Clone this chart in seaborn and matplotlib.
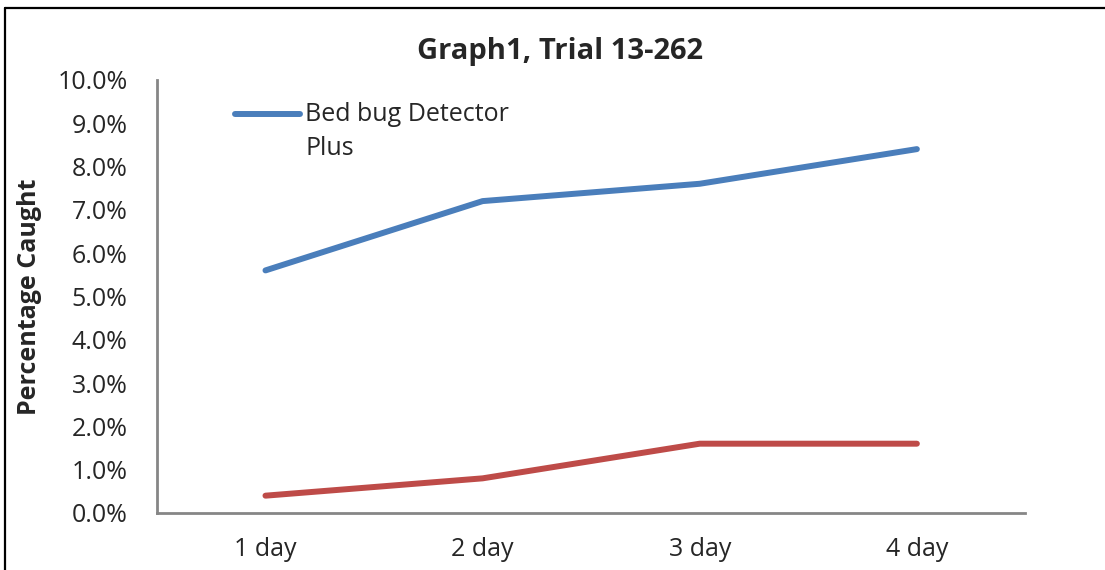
import matplotlib
matplotlib.use("Agg")
import matplotlib.pyplot as plt
import matplotlib.lines as mlines
from matplotlib.legend_handler import HandlerLine2D
import seaborn as sns
import pandas as pd
from matplotlib.ticker import FuncFormatter

categories = ["1 day", "2 day", "3 day", "4 day"]
detector_plus = [5.6, 7.2, 7.6, 8.4]
other_series = [0.4, 0.8, 1.6, 1.6]
series_names = ["Bed bug Detector\nPlus", "Other"]
y_ticks = [0, 1, 2, 3, 4, 5, 6, 7, 8, 9, 10]

df = pd.DataFrame({
    "day": categories * 2,
    "pct": detector_plus + other_series,
    "series": [series_names[0]] * 4 + [series_names[1]] * 4,
})

sns.set_theme(style="white")
plt.rcParams["font.family"] = ["Open Sans", "DejaVu Sans"]

FS = 18
LSP = 1.45

fig = plt.figure(figsize=(11.05, 5.70), dpi=100)
ax = fig.add_axes([0.142, 0.10, 0.786, 0.76])

palette = {series_names[0]: "#4A7EBB", series_names[1]: "#BE4B48"}
sns.lineplot(data=df, x="day", y="pct", hue="series", palette=palette,
             sort=False, linewidth=4.3, ax=ax, legend=False)
for ln in ax.lines:
    ln.set_solid_capstyle("round")

ax.set_xlim(-0.5, 3.5)
ax.set_ylim(0, 10)
ax.set_yticks(y_ticks)
ax.yaxis.set_major_formatter(FuncFormatter(lambda v, p: f"{v:.1f}%"))
ax.set_xlabel("")
ax.set_ylabel("Percentage Caught", fontsize=FS, fontweight="bold", labelpad=11)
ax.tick_params(axis="y", labelsize=FS, length=0, pad=21)
ax.tick_params(axis="x", labelsize=FS, length=0, pad=17)
for side in ["top", "right"]:
    ax.spines[side].set_visible(False)
for side in ["left", "bottom"]:
    ax.spines[side].set_color("#868686")
    ax.spines[side].set_linewidth(2)

ax.set_title("Graph1, Trial 13-262", fontsize=21, fontweight="bold",
             x=0.464, pad=15)


class FirstLineHandler(HandlerLine2D):
    def __init__(self, shift, **kw):
        super().__init__(**kw)
        self.shift = shift

    def create_artists(self, legend, orig_handle, xdescent, ydescent,
                       width, height, fontsize, trans):
        arts = super().create_artists(legend, orig_handle, xdescent, ydescent,
                                      width, height, fontsize, trans)
        for a in arts:
            a.set_ydata([y + self.shift for y in a.get_ydata()])
        return arts


handle = mlines.Line2D([], [], color=palette[series_names[0]], linewidth=4.3,
                       solid_capstyle="round")
leg = ax.legend([handle], [series_names[0]], loc="upper left",
                bbox_to_anchor=(0.09, 0.948), frameon=False, fontsize=FS,
                handlelength=2.6, handletextpad=0.2, borderpad=0,
                borderaxespad=0,
                handler_map={handle: FirstLineHandler(FS * LSP / 2)})
for t in leg.get_texts():
    t.set_linespacing(LSP)

# outer frame (left and top edges visible)
fig.add_artist(mlines.Line2D([5 / 1105, 5 / 1105], [0, 1 - 8 / 570],
                             transform=fig.transFigure, color="black", lw=1.6))
fig.add_artist(mlines.Line2D([5 / 1105, 1], [1 - 8 / 570, 1 - 8 / 570],
                             transform=fig.transFigure, color="black", lw=1.6))

fig.savefig("out.png", dpi=100)
